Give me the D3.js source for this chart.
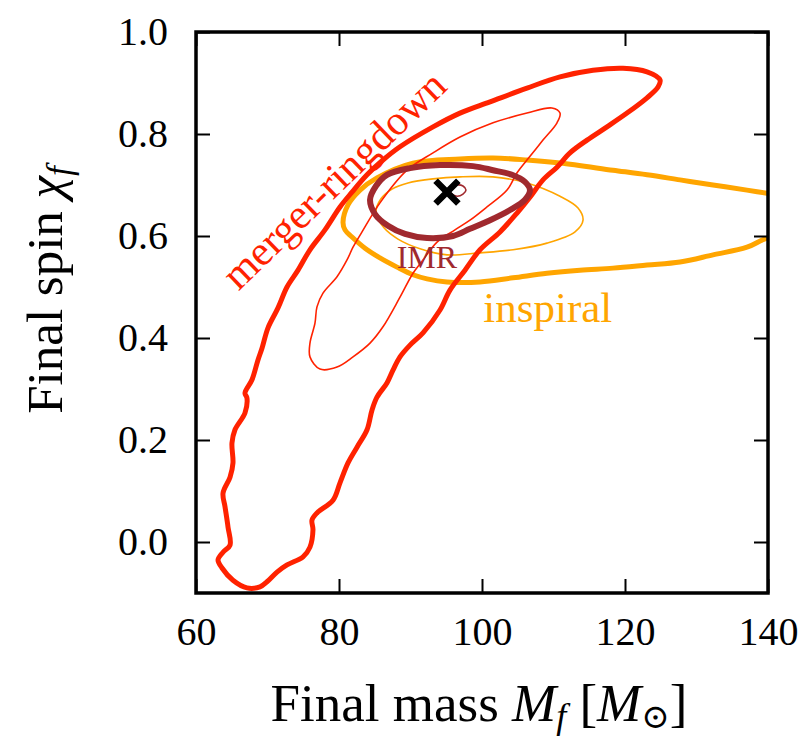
<!DOCTYPE html>
<html>
<head>
<meta charset="utf-8">
<script src="https://cdn.jsdelivr.net/npm/d3@7"></script>
<style>
  body { margin: 0; background: #fff; }
  text { font-family: "Liberation Serif", "Times New Roman", serif; }
</style>
</head>
<body>
<svg id="chart" width="802" height="739"></svg>
<script>
// Axis ticks
const massTicks = [60, 80, 100, 120, 140];
const spinTicks = [0.0, 0.2, 0.4, 0.6, 0.8, 1.0];

// Credible-region contours in (final mass [Msun], final spin)
const mergerRingdown90 = [
  [67.13,-0.090],[65.17,-0.075],[63.64,-0.051],[63.08,-0.035],[63.78,-0.020],[64.76,-0.006],
  [64.48,0.029],[64.06,0.069],[63.78,0.096],[64.76,0.127],[65.17,0.155],[65.03,0.194],
  [65.45,0.220],[66.85,0.253],[67.13,0.282],[66.85,0.292],[67.83,0.318],[68.67,0.357],
  [69.23,0.380],[70.07,0.420],[71.47,0.459],[72.73,0.500],[74.27,0.533],[75.94,0.573],
  [78.04,0.612],[80.14,0.657],[81.82,0.686],[83.92,0.720],[86.15,0.749],[88.53,0.775],
  [93.15,0.814],[96.92,0.841],[101.12,0.863],[106.29,0.890],[110.91,0.912],[115.52,0.925],
  [119.72,0.929],[123.08,0.922],[124.90,0.906],[124.62,0.892],[123.08,0.871],[120.28,0.841],
  [117.48,0.814],[114.69,0.788],[112.31,0.763],[110.49,0.735],[108.53,0.710],[106.71,0.676],
  [104.90,0.645],[102.52,0.608],[99.72,0.573],[97.62,0.533],[95.52,0.494],[94.13,0.455],
  [91.75,0.410],[89.93,0.386],[88.53,0.363],[87.55,0.337],[86.71,0.312],[85.31,0.284],
  [84.62,0.259],[83.92,0.220],[82.52,0.186],[81.26,0.155],[80.14,0.116],[79.16,0.082],
  [76.92,0.057],[76.22,0.043],[76.36,0.024],[75.94,-0.010],[74.97,-0.029],[72.73,-0.045],
  [71.33,-0.059],[69.93,-0.078],[68.95,-0.088]
];
const mergerRingdown50 = [
  [77.34,0.339],[75.94,0.363],[75.94,0.390],[76.64,0.429],[76.92,0.461],[77.76,0.488],
  [79.72,0.520],[81.12,0.553],[81.96,0.578],[83.22,0.608],[85.73,0.665],[89.51,0.729],
  [93.15,0.763],[96.92,0.794],[101.54,0.822],[106.29,0.841],[109.79,0.851],[110.91,0.841],
  [110.49,0.822],[108.53,0.788],[106.29,0.749],[104.90,0.724],[103.50,0.690],[100.70,0.657],
  [98.32,0.631],[96.22,0.612],[93.71,0.588],[91.75,0.553],[90.35,0.527],[88.53,0.480],
  [86.15,0.422],[84.34,0.390],[81.96,0.363],[79.72,0.343]
];
const inspiral90 = [
  [80.56,0.627],[81.26,0.661],[82.94,0.690],[85.31,0.714],[90.35,0.743],[96.92,0.751],
  [101.54,0.753],[106.29,0.749],[110.91,0.743],[118.32,0.729],[123.08,0.720],[127.69,0.710],
  [132.31,0.700],[137.06,0.690],[139.86,0.684],[144.48,0.675],[144.48,0.608],[139.86,0.596],
  [137.06,0.578],[132.31,0.563],[127.69,0.549],[123.08,0.543],[118.32,0.537],[113.71,0.533],
  [109.09,0.527],[104.34,0.518],[99.72,0.510],[95.10,0.510],[92.31,0.516],[90.35,0.524],
  [88.11,0.539],[85.73,0.557],[83.64,0.576],[81.82,0.598],[80.84,0.612]
];
const inspiral50 = [
  [85.17,0.645],[85.87,0.673],[87.41,0.692],[89.65,0.704],[93.15,0.712],[96.92,0.716],
  [101.54,0.716],[106.29,0.704],[110.91,0.678],[113.43,0.655],[114.13,0.631],[113.01,0.608],
  [109.09,0.586],[104.34,0.573],[99.72,0.567],[95.10,0.563],[91.33,0.575],[88.25,0.594],
  [86.29,0.616]
];
const imr90 = [
  [84.34,0.671],[85.17,0.698],[86.71,0.720],[89.93,0.733],[94.13,0.739],[98.74,0.737],
  [101.54,0.729],[104.20,0.720],[106.01,0.706],[106.71,0.690],[106.01,0.671],[103.92,0.651],
  [101.12,0.631],[98.32,0.614],[95.94,0.600],[92.31,0.596],[89.23,0.604],[86.85,0.620],
  [85.03,0.643]
];
const imr50 = [
  [95.66,0.694],[96.50,0.700],[97.34,0.698],[97.76,0.690],[97.34,0.682],[96.50,0.678],
  [95.80,0.682],[95.52,0.688]
];
const imrPeak = [95.1, 0.686];

const svg = d3.select("#chart");
svg.append("rect").attr("width", 802).attr("height", 739).attr("fill", "#fff");

const plotLeft = 196, plotRight = 768, plotTop = 32, plotBottom = 593;
const x = d3.scaleLinear().domain([60, 140]).range([plotLeft, plotRight]);
const y = d3.scaleLinear().domain([-0.1, 1.0]).range([plotBottom, plotTop]);

svg.append("clipPath").attr("id", "plotClip")
  .append("rect").attr("x", plotLeft).attr("y", plotTop)
  .attr("width", plotRight - plotLeft).attr("height", plotBottom - plotTop);

const plot = svg.append("g").attr("clip-path", "url(#plotClip)");
const contourLine = d3.line().x(d => x(d[0])).y(d => y(d[1]))
  .curve(d3.curveCatmullRomClosed.alpha(0.5));

const RED = "#ff2200", ORANGE = "#ffa500", BROWN = "#a0292e";
const contours = [
  { pts: inspiral90, color: ORANGE, w: 5 },
  { pts: inspiral50, color: ORANGE, w: 1.6 },
  { pts: mergerRingdown90, color: RED, w: 5 },
  { pts: mergerRingdown50, color: RED, w: 1.6 },
  { pts: imr90, color: BROWN, w: 6 },
  { pts: imr50, color: BROWN, w: 1.6 }
];
plot.selectAll("path.contour").data(contours).join("path")
  .attr("class", "contour")
  .attr("d", d => contourLine(d.pts))
  .attr("fill", "none")
  .attr("stroke", d => d.color)
  .attr("stroke-width", d => d.w)
  .attr("stroke-linejoin", "round");

// peak marker
plot.append("path")
  .attr("transform", `translate(${x(imrPeak[0])},${y(imrPeak[1])})`)
  .attr("d", d3.symbol(d3.symbolX, 340)())
  .attr("fill", "none")
  .attr("stroke", "#000")
  .attr("stroke-width", 6.5);

// axes with inward ticks on all sides
const fmt = d3.format(".1f");
const axB = svg.append("g").attr("transform", `translate(0,${plotBottom})`)
  .call(d3.axisBottom(x).tickValues(massTicks).tickSizeInner(-14).tickSizeOuter(0).tickPadding(24));
const axT = svg.append("g").attr("transform", `translate(0,${plotTop})`)
  .call(d3.axisTop(x).tickValues(massTicks).tickSizeInner(-14).tickSizeOuter(0).tickFormat(""));
const axL = svg.append("g").attr("transform", `translate(${plotLeft},0)`)
  .call(d3.axisLeft(y).tickValues(spinTicks).tickSizeInner(-14).tickSizeOuter(0).tickPadding(28).tickFormat(fmt));
const axR = svg.append("g").attr("transform", `translate(${plotRight},0)`)
  .call(d3.axisRight(y).tickValues(spinTicks).tickSizeInner(-14).tickSizeOuter(0).tickFormat(""));
[axB, axT, axL, axR].forEach(a => {
  a.attr("font-family", null).attr("font-size", null);
  a.select(".domain").remove();
  a.selectAll(".tick line").attr("stroke", "#000").attr("stroke-width", 2);
  a.selectAll(".tick text").attr("font-size", 40).attr("fill", "#000");
});

svg.append("rect").attr("x", plotLeft).attr("y", plotTop)
  .attr("width", plotRight - plotLeft).attr("height", plotBottom - plotTop)
  .attr("fill", "none").attr("stroke", "#000").attr("stroke-width", 3.5);

// axis titles
const xt = svg.append("text").attr("x", 479).attr("y", 721)
  .attr("text-anchor", "middle").attr("font-size", 53).attr("fill", "#000");
xt.append("tspan").text("Final mass ");
xt.append("tspan").attr("font-style", "italic").text("M");
xt.append("tspan").attr("font-style", "italic").attr("font-size", 36).attr("dy", 7).text("f");
xt.append("tspan").attr("dy", -7).text(" [");
xt.append("tspan").attr("font-style", "italic").text("M");
xt.append("tspan").attr("font-size", 34).attr("dy", 7).attr("font-family", "'DejaVu Serif', serif").text("\u2299");
xt.append("tspan").attr("dy", -7).text("]");

const yt = svg.append("text")
  .attr("transform", "translate(62,290) rotate(-90)")
  .attr("text-anchor", "middle").attr("font-size", 51).attr("fill", "#000");
yt.append("tspan").text("Final spin ");
yt.append("tspan").attr("font-style", "italic").text("\u03C7");
yt.append("tspan").attr("font-style", "italic").attr("font-size", 35).attr("dy", 9).text("f");

// contour labels
svg.append("text")
  .attr("transform", `translate(${x(79.3)},${y(0.71)}) rotate(-44)`)
  .attr("text-anchor", "middle").attr("dominant-baseline", "central")
  .attr("font-size", 42).attr("fill", RED).text("merger-ringdown");
svg.append("text").attr("x", x(92.3)).attr("y", y(0.537))
  .attr("text-anchor", "middle").attr("font-size", 32).attr("fill", BROWN).text("IMR");
svg.append("text").attr("x", x(109.2)).attr("y", y(0.431))
  .attr("text-anchor", "middle").attr("font-size", 43).attr("fill", ORANGE).text("inspiral");
</script>
</body>
</html>
